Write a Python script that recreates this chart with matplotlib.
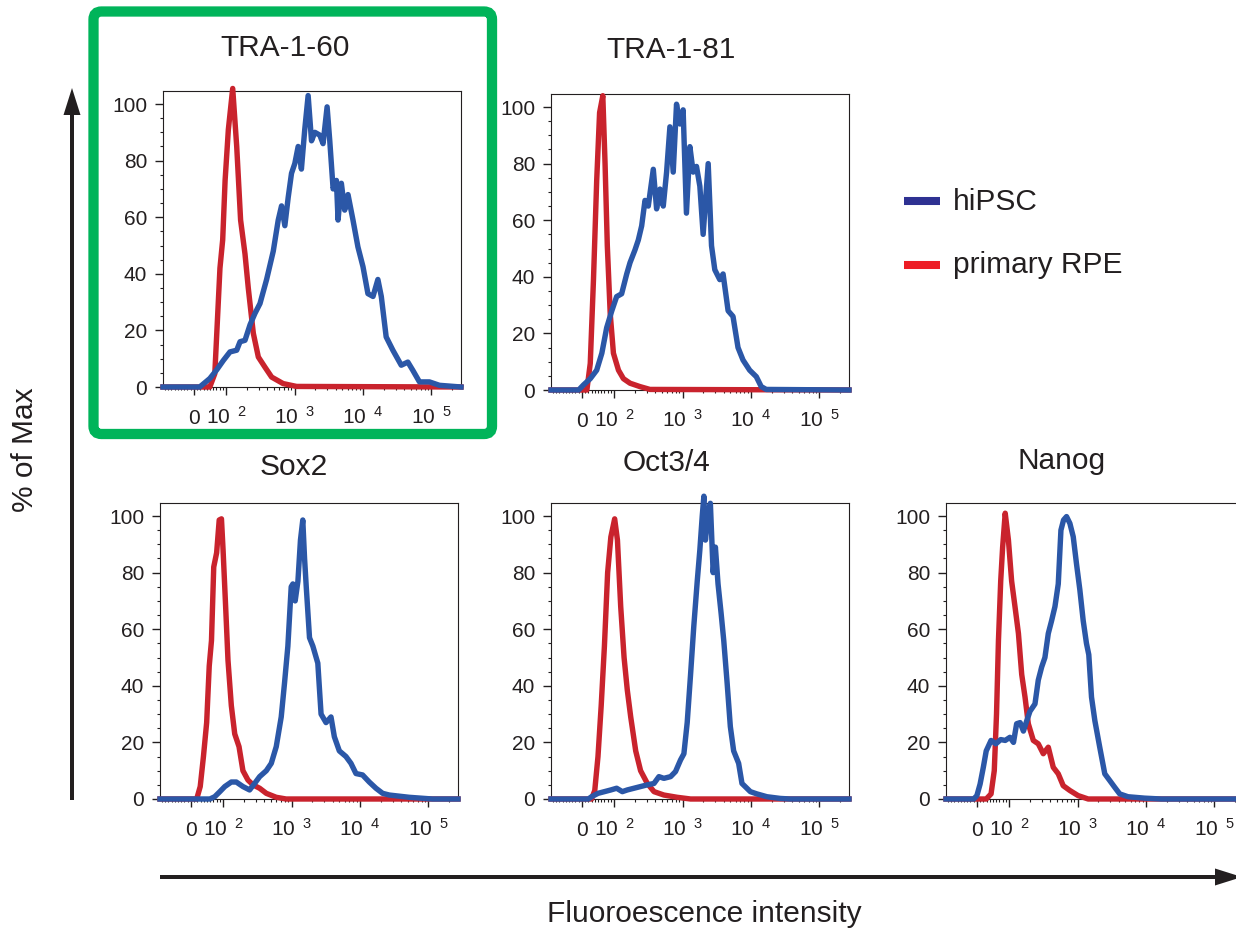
import matplotlib
matplotlib.use("Agg")
import matplotlib.pyplot as plt
from matplotlib.patches import FancyArrow, FancyBboxPatch

plt.rcParams['font.family'] = 'Liberation Sans'
plt.rcParams['mathtext.fontset'] = 'custom'
plt.rcParams['mathtext.rm'] = 'Liberation Sans'
plt.rcParams['mathtext.it'] = 'Liberation Sans:italic'

W, H = 1236, 931
BLUE = '#2b57a7'
RED = '#c9232d'
INK = '#231f20'
GREEN = '#00b45a'

# ---- data: fluorescence intensity vs % of max ----
tra160_red_x = [-96, 40, 49.5, 65, 81, 89.5, 97, 108, 125, 143, 163, 189, 211, 250, 296, 370, 463, 682, 1070, 270000]
tra160_red_y = [0, 0, 0, 4.7, 42, 52, 73, 91, 105.5, 85, 59, 47, 35, 19, 10.6, 7, 3.5, 1.2, 0.2, 0]
tra160_blue_x = [-96, 18, 49.5, 70.5, 91.6, 114, 143, 160, 189, 224, 264, 313, 391, 489, 578, 646, 722, 808, 903,
                 1010, 1130, 1260, 1410, 1580, 1770, 1980, 2340, 2610, 2990, 3270, 3660, 4090, 4320, 4830, 5400,
                 6040, 7140, 8430, 10000, 11800, 14000, 16500, 18500, 21800, 27300, 36200, 45200, 53400, 66800,
                 93400, 130600, 270000]
tra160_blue_y = [0, 0, 3, 6, 9.4, 12.4, 13, 16, 16.5, 22, 26, 29.5, 38, 48, 59, 64, 57, 67, 75.5,
                 79, 85, 77, 91, 103, 87, 90, 89, 86, 99, 87, 70, 73, 59, 72, 62.5,
                 68, 59, 49.5, 42.5, 33, 32, 38, 32, 17.7, 13, 7.7, 8.8, 5.9, 1.8,
                 1.8, 0.6, 0]

tra181_red_x = [-96, 15.5, 26, 36, 46, 55, 65, 72, 79, 88, 98, 116, 137, 171, 239, 334, 270000]
tra181_red_y = [0, 0, 9.4, 39, 74, 98, 104, 80, 51, 27, 13, 7, 4, 2.4, 1.2, 0.2, 0]
tra181_blue_x = [-96, -10, 5, 26, 46, 62, 77, 93, 109, 129, 153, 171, 202, 226, 253, 283, 316, 374, 418, 468,
                 523, 585, 654, 731, 817, 914, 1020, 1140, 1280, 1430, 1600, 1790, 2000, 2370, 2650,
                 2960, 3500, 3910, 4630, 5460, 6460, 7640, 9560, 11960, 14100, 16700, 270000]
tra181_blue_y = [0, 0, 1.8, 4, 7, 13, 22, 28, 33, 34, 41, 45, 49.5, 53, 58, 67, 65, 78, 64, 71,
                 65, 77, 93, 77, 101, 94, 99, 62.5, 86, 77, 79, 72, 55, 80, 51,
                 42.5, 39, 41, 28, 26, 15, 10.6, 7, 4.7, 1.2, 0.2, 0]

sox2_red_x = [-96, 18, 29, 39, 49, 57, 64, 71, 80, 88, 95, 100, 109, 118, 132, 148, 171, 195, 231, 273,
              342, 428, 598, 834, 270000]
sox2_red_y = [0, 0, 4.4, 15, 27, 47, 56, 82, 87, 98.6, 99, 88, 68, 49, 33, 23, 18.5, 10, 6.7, 5,
              3.8, 2, 0.6, 0, 0]
sox2_blue_x = [-96, 59, 74, 90, 106, 132, 156, 195, 244, 289, 342, 428, 506, 598, 707, 790, 884, 989, 1047,
               1130, 1240, 1350, 1460, 1550, 1640, 1830, 2050, 2420, 2700, 3190, 3770, 4220, 4990, 6240,
               7380, 8730, 10900, 13660, 17100, 21400, 26800, 37400, 52300, 114000, 270000]
sox2_blue_y = [0, 0, 0.8, 2.6, 4.4, 6, 6, 4.4, 3.2, 5.5, 7.9, 10, 12.6, 18.5, 29, 41, 54, 75, 76,
               70, 77, 91.5, 98.6, 85, 75, 57, 54, 48, 30, 27, 29, 22, 17, 15,
               12.6, 9, 8.5, 6, 3.8, 2, 1.4, 1, 0.6, 0, 0]

oct_red_x = [-96, 30, 40, 50, 60, 70, 80, 90, 102, 112, 125, 140, 156, 175, 207, 244, 306, 383, 534, 834, 1310, 270000]
oct_red_y = [0, 0, 3, 15, 33, 54, 80, 92.6, 99, 91.5, 68, 50, 38.5, 29, 17, 10, 5.5, 2.6, 1.4, 0.6, 0, 0]
oct_blue_x = [-96, 20, 30, 50, 70, 90, 109, 132, 156, 195, 244, 306, 383, 452, 534, 669, 790, 935, 1047,
              1170, 1310, 1460, 1640, 1790, 1940, 2050, 2160, 2340, 2550, 2800, 3020, 3300, 3660, 4000,
              4480, 4990, 5580, 6600, 7380, 9780, 12200, 17100, 26800, 37400, 270000]
oct_blue_y = [0, 0, 0.8, 2, 2.6, 3.2, 3.8, 2.6, 3.2, 3.8, 4.4, 5, 5.5, 7.9, 7.3, 7.9, 9.7, 13.8, 16,
              27, 44, 61, 77, 88, 100, 107, 91.5, 100, 104.5, 80, 89, 76, 65.6, 56,
              41, 25.6, 17, 12.6, 5.5, 2.6, 1.8, 0.8, 0.2, 0, 0]

nanog_red_x = [-96, 29, 44, 54, 61, 67, 74, 80, 88, 98, 109, 122, 137, 153, 171, 191, 226, 267, 316, 374,
               442, 523, 618, 773, 1020, 1430, 270000]
nanog_red_y = [0, 0, 1.8, 10, 30, 56, 77, 89, 101, 91.5, 77, 68, 58.5, 44, 36, 26.6, 20.7, 19.5, 16, 18.3,
               11.2, 8.9, 4.7, 3, 1.2, 0, 0]
nanog_blue_x = [-96, -10, 0, 10, 20, 29, 44, 59, 74, 88, 103, 116, 129, 145, 162, 181, 202, 239, 267, 299,
                334, 374, 418, 468, 523, 572, 625, 691, 773, 865, 967, 1080, 1210, 1350, 1460,
                1600, 1790, 2110, 2500, 2960, 3500, 4130, 5460, 9560, 16700, 270000]
nanog_blue_y = [0, 0, 1.2, 5.3, 11.2, 17, 20.7, 19.5, 21, 20.7, 21.8, 20, 26.6, 27, 24, 27.6, 31, 33.6, 42, 46.6,
                50, 58.5, 63, 68, 76, 95, 98.6, 99.8, 97.4, 92.7, 83, 74, 63, 55, 51,
                36, 27.7, 18.3, 8.9, 6.5, 4.1, 1.8, 0.8, 0.3, 0, 0]

x_major = [0, 100, 1000, 10000, 100000]
x_labels = ['0', r'10$^{\ \ 2}$', r'10$^{\ \ 3}$', r'10$^{\ \ 4}$', r'10$^{\ \ 5}$']
y_major = [0, 20, 40, 60, 80, 100]

# panel layout in pixels: left, top (0-line at top+296), title centre
panels = [
    ("TRA-1-60", 163, 91, (285, 48), tra160_blue_x, tra160_blue_y, tra160_red_x, tra160_red_y),
    ("TRA-1-81", 551, 94, (671, 50), tra181_blue_x, tra181_blue_y, tra181_red_x, tra181_red_y),
    ("Sox2", 160, 503, (294, 467), sox2_blue_x, sox2_blue_y, sox2_red_x, sox2_red_y),
    ("Oct3/4", 551, 503, (667, 463), oct_blue_x, oct_blue_y, oct_red_x, oct_red_y),
    ("Nanog", 946, 503, (1062, 461), nanog_blue_x, nanog_blue_y, nanog_red_x, nanog_red_y),
]

fig = plt.figure(figsize=(W / 100, H / 100), dpi=100)

x_minor = [v for v in range(-90, 100, 10) if v != 0]
for e in (100, 1000, 10000):
    x_minor += [k * e for k in range(2, 10)]
x_minor.append(200000)

for name, left, top, tpos, bx, by, rx, ry in panels:
    ax = fig.add_axes([left / W, 1 - (top + 296) / H, 298 / W, 296 / H])
    ax.set_facecolor('none')
    ax.set_xscale('symlog', linthresh=100, linscale=0.423)
    ax.plot(rx, ry, color=RED, lw=3.9, clip_on=False, zorder=3)
    ax.plot(bx, by, color=BLUE, lw=3.9, clip_on=False, zorder=4)
    ax.set_xlim(-96, 270000)
    ax.set_ylim(0, 104.6)
    ax.set_xticks(x_major)
    ax.set_xticklabels(x_labels)
    ax.set_xticks(x_minor, minor=True)
    ax.set_yticks(y_major)
    ax.set_yticks(range(5, 105, 5), minor=True)
    ax.tick_params(which='major', direction='out', length=5.5, width=1, color=INK,
                   labelsize=15, labelcolor=INK)
    ax.tick_params(which='minor', direction='out', length=2.5, width=0.8, color=INK)
    ax.tick_params(axis='x', which='major', pad=21)
    ax.tick_params(axis='y', which='major', pad=6)
    for lab in ax.get_xticklabels():
        lab.set_verticalalignment('baseline')
    for sp in ax.spines.values():
        sp.set_linewidth(0.8)
        sp.set_color(INK)

# overlay in pixel coordinates for arrows, box, labels and legend
ov = fig.add_axes([0, 0, 1, 1], zorder=10)
ov.set_xlim(0, W)
ov.set_ylim(H, 0)
ov.set_axis_off()

for name, left, top, tpos, bx, by, rx, ry in panels:
    ov.text(tpos[0], tpos[1], name, ha='center', va='center', fontsize=21.5, color=INK)

ov.add_patch(FancyBboxPatch((93.5, 11.5), 398.5, 422.5, boxstyle='round,pad=0,rounding_size=8',
                            fill=False, lw=7.4, ec=GREEN))

ov.add_patch(FancyArrow(72, 800, 0, -712, width=4, head_width=17, head_length=27,
                        length_includes_head=True, color=INK, lw=0))
ov.add_patch(FancyArrow(160, 877, 1082, 0, width=4, head_width=17, head_length=27,
                        length_includes_head=True, color=INK, lw=0))

ov.text(25, 450, '% of Max', rotation=90, ha='center', va='center', fontsize=21.5, color=INK)
ov.text(704, 914, 'Fluoroescence intensity', ha='center', va='center', fontsize=21.5, color=INK)

ov.plot([904, 940], [201, 201], color='#2e3192', lw=5.8, solid_capstyle='butt')
ov.plot([904, 940], [265, 265], color='#ed1c24', lw=5.8, solid_capstyle='butt')
ov.text(953, 202, 'hiPSC', ha='left', va='center', fontsize=21.5, color=INK)
ov.text(953, 265, 'primary RPE', ha='left', va='center', fontsize=21.5, color=INK)

fig.savefig('out.png', dpi=100)
